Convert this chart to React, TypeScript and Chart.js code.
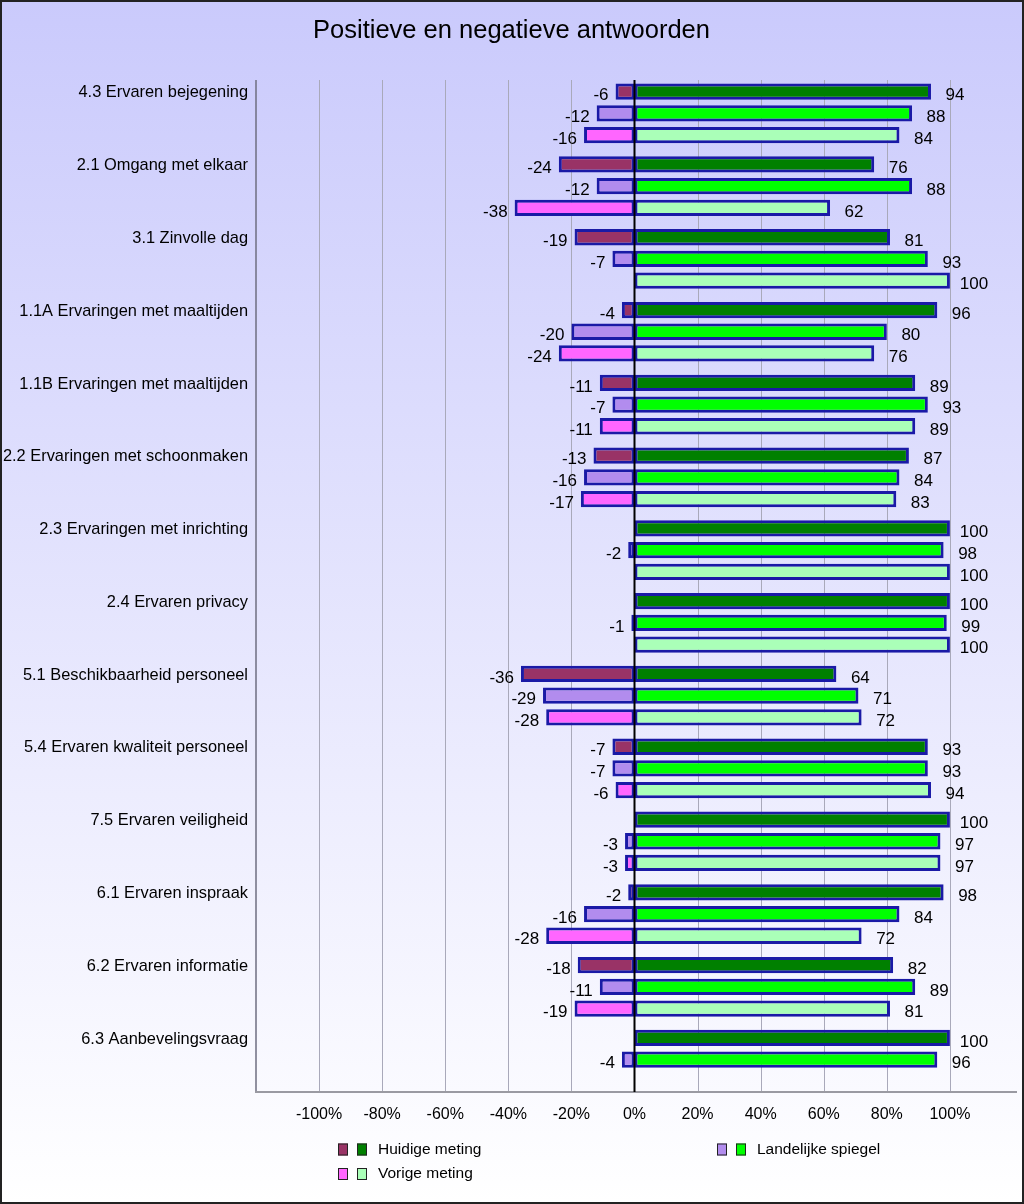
import React, { useEffect, useRef } from "react";
import { Chart, registerables } from "chart.js";

Chart.register(...registerables);

const titleText = "Positieve en negatieve antwoorden";

const categories = [
  "4.3 Ervaren bejegening",
  "2.1 Omgang met elkaar",
  "3.1 Zinvolle dag",
  "1.1A Ervaringen met maaltijden",
  "1.1B Ervaringen met maaltijden",
  "2.2 Ervaringen met schoonmaken",
  "2.3 Ervaringen met inrichting",
  "2.4 Ervaren privacy",
  "5.1 Beschikbaarheid personeel",
  "5.4 Ervaren kwaliteit personeel",
  "7.5 Ervaren veiligheid",
  "6.1 Ervaren inspraak",
  "6.2 Ervaren informatie",
  "6.3 Aanbevelingsvraag",
];

const seriesNames = ["Huidige meting", "Landelijke spiegel", "Vorige meting"];

const huidigeNeg = [-6, -24, -19, -4, -11, -13, null, null, -36, -7, null, -2, -18, null];
const huidigePos = [94, 76, 81, 96, 89, 87, 100, 100, 64, 93, 100, 98, 82, 100];
const landelijkNeg = [-12, -12, -7, -20, -7, -16, -2, -1, -29, -7, -3, -16, -11, -4];
const landelijkPos = [88, 88, 93, 80, 93, 84, 98, 99, 71, 93, 97, 84, 89, 96];
const vorigeNeg = [-16, -38, null, -24, -11, -17, null, null, -28, -6, -3, -28, -19, null];
const vorigePos = [84, 62, 100, 76, 89, 83, 100, 100, 72, 94, 97, 72, 81, null];

const xTickValues = [-100, -80, -60, -40, -20, 0, 20, 40, 60, 80, 100];

const FONT = '"Liberation Sans", Arial, sans-serif';
const BORDER = "#1A1AA6";

const backgroundPlugin = {
  id: "bgGradient",
  beforeDraw(chart: any) {
    const { ctx, width, height } = chart;
    ctx.save();
    const g = ctx.createLinearGradient(0, 0, 0, height);
    g.addColorStop(0, "#CACAFC");
    g.addColorStop(1, "#FFFFFF");
    ctx.fillStyle = g;
    ctx.fillRect(0, 0, width, height);
    ctx.restore();
  },
};

const gridPlugin = {
  id: "customGrid",
  beforeDatasetsDraw(chart: any) {
    const { ctx, chartArea } = chart;
    const xs = chart.scales.x;
    const top = chartArea.top + 3;
    const bottom = chartArea.bottom - 4;
    ctx.save();
    ctx.strokeStyle = "#A9A9BA";
    ctx.lineWidth = 1;
    xTickValues.forEach((v) => {
      if (v === 0) return;
      const x = Math.round(xs.getPixelForValue(v)) + 0.5;
      ctx.beginPath();
      ctx.moveTo(x, top);
      ctx.lineTo(x, bottom);
      ctx.stroke();
    });
    ctx.strokeStyle = "#6E6E80";
    ctx.lineWidth = 1.5;
    ctx.beginPath();
    ctx.moveTo(chartArea.left, top);
    ctx.lineTo(chartArea.left, bottom);
    ctx.stroke();
    ctx.strokeStyle = "#9A9AA2";
    ctx.lineWidth = 2;
    ctx.beginPath();
    ctx.moveTo(chartArea.left - 1, bottom);
    ctx.lineTo(chartArea.right + 4, bottom);
    ctx.stroke();
    ctx.restore();
  },
  afterDatasetsDraw(chart: any) {
    const { ctx, chartArea } = chart;
    const xs = chart.scales.x;
    const top = chartArea.top + 3;
    const bottom = chartArea.bottom - 4;
    const x0 = xs.getPixelForValue(0);
    ctx.save();
    ctx.strokeStyle = "#000000";
    ctx.lineWidth = 2;
    ctx.beginPath();
    ctx.moveTo(x0, top);
    ctx.lineTo(x0, bottom);
    ctx.stroke();
    ctx.restore();
  },
};

const valueLabelPlugin = {
  id: "valueLabels",
  afterDatasetsDraw(chart: any) {
    const ctx = chart.ctx;
    ctx.save();
    ctx.font = `17px ${FONT}`;
    ctx.fillStyle = "#000";
    ctx.textBaseline = "middle";
    chart.data.datasets.forEach((ds: any, di: number) => {
      const meta = chart.getDatasetMeta(di);
      meta.data.forEach((el: any, i: number) => {
        const v = ds.data[i];
        if (v == null || v === 0) return;
        const { x, y } = el.getProps(["x", "y"], true);
        if (v > 0) {
          ctx.textAlign = "center";
          ctx.fillText(String(v), x + 24, y + 4);
        } else {
          ctx.textAlign = "right";
          ctx.fillText(String(v), x - 7, y + 4);
        }
      });
    });
    ctx.restore();
  },
};

const decorPlugin = {
  id: "decor",
  afterDraw(chart: any) {
    const { ctx, width, height } = chart;
    ctx.save();
    ctx.fillStyle = "#000";
    ctx.font = `25.5px ${FONT}`;
    ctx.textAlign = "center";
    ctx.textBaseline = "alphabetic";
    ctx.fillText(titleText, 511.5, 37.5);

    const ds = chart.data.datasets;
    const items = [
      { s: 0, x: 338, y: 1149.5 },
      { s: 1, x: 717, y: 1149.5 },
      { s: 2, x: 338, y: 1174 },
    ];
    ctx.font = `15.5px ${FONT}`;
    ctx.textAlign = "left";
    ctx.textBaseline = "middle";
    items.forEach((it) => {
      const neg = ds[it.s * 2];
      const pos = ds[it.s * 2 + 1];
      [neg, pos].forEach((d: any, k: number) => {
        const bx = it.x + k * 19;
        ctx.fillStyle = d.backgroundColor;
        ctx.fillRect(bx, it.y - 6, 10, 12);
        ctx.strokeStyle = "#222";
        ctx.lineWidth = 1;
        ctx.strokeRect(bx + 0.5, it.y - 5.5, 9, 11);
      });
      ctx.fillStyle = "#000";
      ctx.fillText(seriesNames[it.s], it.x + 40, it.y);
    });

    ctx.strokeStyle = "#222";
    ctx.lineWidth = 2;
    ctx.strokeRect(1, 1, width - 2, height - 2);
    ctx.restore();
  },
};

function makeDataset(label: string, data: (number | null)[], stack: string, color: string) {
  return {
    label,
    data,
    stack,
    backgroundColor: color,
    borderColor: BORDER,
    borderWidth: 3,
    borderSkipped: false,
    categoryPercentage: 0.895,
    barPercentage: 0.75,
  };
}

export default function App() {
  const canvasRef = useRef<HTMLCanvasElement | null>(null);

  useEffect(() => {
    const canvas = canvasRef.current;
    if (!canvas) return;
    const chart = new Chart(canvas, {
      type: "bar",
      data: {
        labels: categories,
        datasets: [
          makeDataset(seriesNames[0], huidigeNeg, "h", "#993366"),
          makeDataset(seriesNames[0], huidigePos, "h", "#008000"),
          makeDataset(seriesNames[1], landelijkNeg, "l", "#B28CEE"),
          makeDataset(seriesNames[1], landelijkPos, "l", "#00FF00"),
          makeDataset(seriesNames[2], vorigeNeg, "v", "#FF66FF"),
          makeDataset(seriesNames[2], vorigePos, "v", "#AAFFB8"),
        ] as any,
      },
      options: {
        indexAxis: "y",
        responsive: false,
        animation: false,
        layout: { padding: { left: 0, right: 11, top: 77, bottom: 78 } },
        plugins: {
          legend: { display: false },
          title: { display: false },
          tooltip: { enabled: false },
        },
        scales: {
          x: {
            type: "linear",
            stacked: true,
            min: -120,
            max: 120,
            grid: { display: false, drawTicks: false },
            border: { display: false },
            afterFit: (scale: any) => {
              scale.height = 30;
            },
            afterBuildTicks: (scale: any) => {
              scale.ticks = xTickValues.map((v) => ({ value: v }));
            },
            ticks: {
              autoSkip: false,
              maxRotation: 0,
              padding: 9,
              color: "#000",
              font: { family: FONT, size: 16 },
              callback: (v: any) => `${v}%`,
            },
          },
          y: {
            type: "category",
            stacked: true,
            grid: { display: false, drawTicks: false },
            border: { display: false },
            afterFit: (scale: any) => {
              scale.width = 256;
            },
            ticks: {
              autoSkip: false,
              padding: 8,
              labelOffset: -20.5,
              color: "#000",
              font: { family: FONT, size: 16.4 },
            },
          },
        },
      },
      plugins: [backgroundPlugin, gridPlugin, valueLabelPlugin, decorPlugin],
    } as any);
    return () => chart.destroy();
  }, []);

  return (
    <div style={{ position: "absolute", left: 0, top: 0, width: 1024, height: 1204 }}>
      <canvas ref={canvasRef} width={1024} height={1204} style={{ display: "block" }} />
    </div>
  );
}
